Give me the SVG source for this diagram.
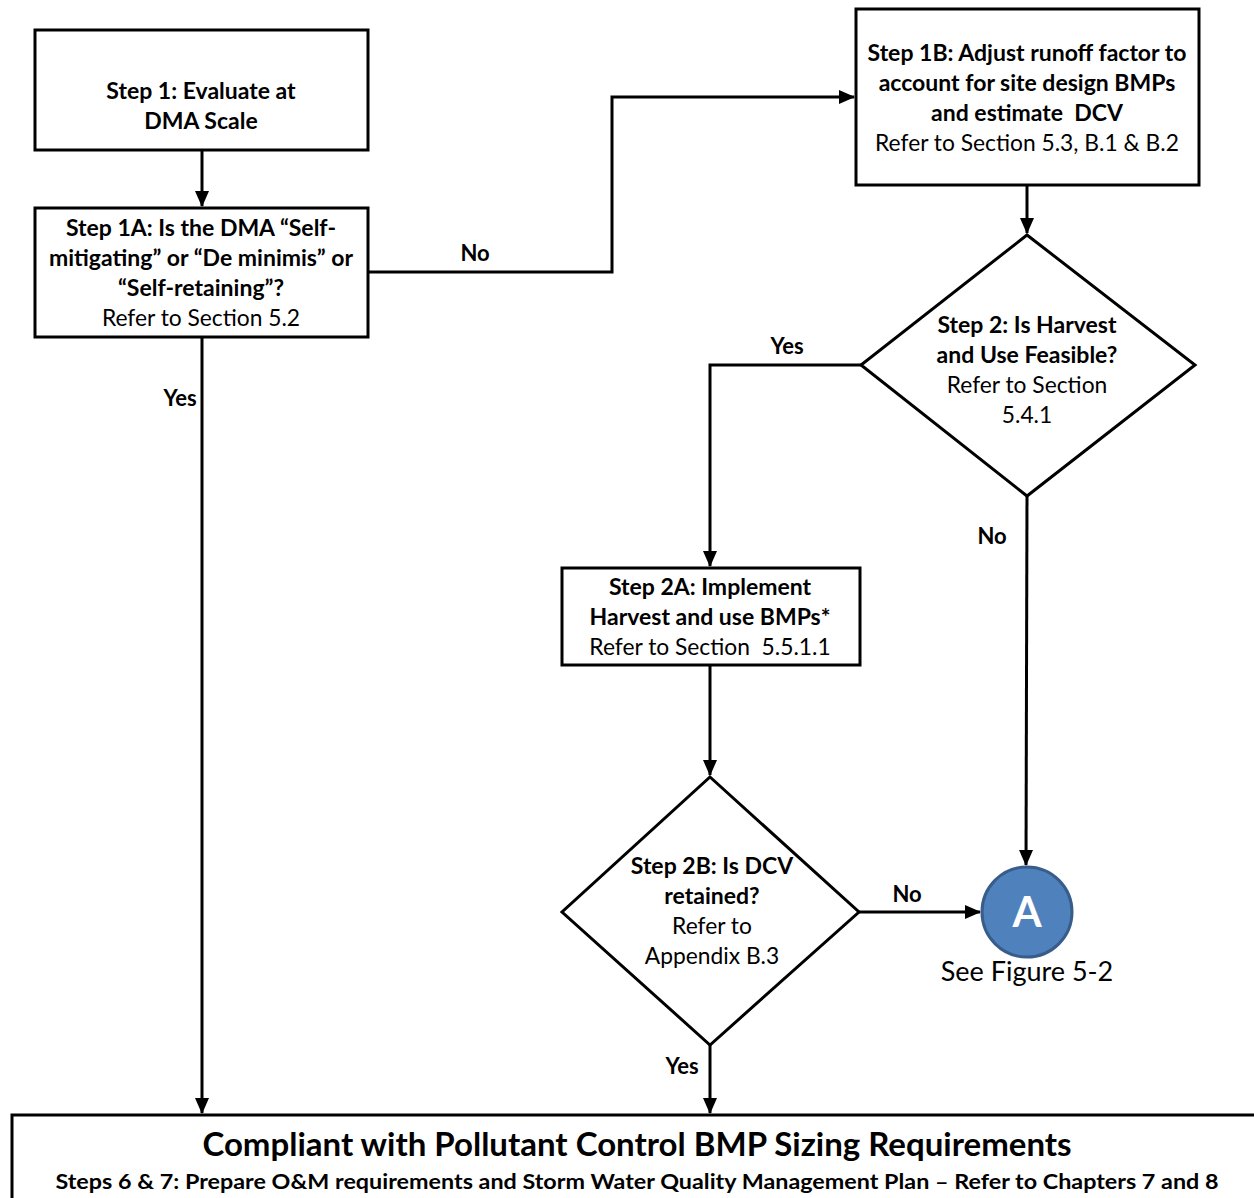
<svg xmlns="http://www.w3.org/2000/svg" width="1254" height="1198" viewBox="0 0 1254 1198">
<defs>
<style>
.box{fill:#fff;stroke:#000;stroke-width:3}
.line{fill:none;stroke:#000;stroke-width:3}
text{font-family:Lato,"Open Sans","Liberation Sans",sans-serif;fill:#000;text-anchor:middle}
.b{font-weight:bold;font-size:23px}
.n{font-size:22.8px}
.lbl{font-weight:bold;font-size:22px}
</style>
<marker id="arr" markerUnits="userSpaceOnUse" markerWidth="16" markerHeight="14" refX="15" refY="7" orient="auto">
<path d="M0,0 L16,7 L0,14 Z" fill="#000"/>
</marker>
</defs>
<rect width="1254" height="1198" fill="#fff"/>
<g id="connectors">
<path class="line" d="M202,150 V206" marker-end="url(#arr)"/>
<path class="line" d="M368,272 H612 V97 H854" marker-end="url(#arr)"/>
<path class="line" d="M1027,185 V233" marker-end="url(#arr)"/>
<path class="line" d="M861,365 H710 V566" marker-end="url(#arr)"/>
<path class="line" d="M1027,496 L1026,865" marker-end="url(#arr)"/>
<path class="line" d="M710,665 V775" marker-end="url(#arr)"/>
<path class="line" d="M859,912 H980" marker-end="url(#arr)"/>
<path class="line" d="M710,1045 V1113" marker-end="url(#arr)"/>
<path class="line" d="M202,337 V1113" marker-end="url(#arr)"/>
<text class="lbl" x="475" y="261">No</text>
<text class="lbl" x="787" y="354">Yes</text>
<text class="lbl" x="992" y="544">No</text>
<text class="lbl" x="907" y="902">No</text>
<text class="lbl" x="682" y="1074">Yes</text>
<text class="lbl" x="180" y="406">Yes</text>
</g>
<g id="step1">
<rect class="box" x="35" y="30" width="333" height="120"/>
<text class="b" x="201" y="99">Step 1: Evaluate at</text>
<text class="b" x="201" y="129">DMA Scale</text>
</g>
<g id="step1a">
<rect class="box" x="35" y="208" width="333" height="129"/>
<text class="b" x="201" y="236">Step 1A: Is the DMA “Self-</text>
<text class="b" x="201" y="266">mitigating” or “De minimis” or</text>
<text class="b" x="201" y="296">“Self-retaining”?</text>
<text class="n" x="201" y="326">Refer to Section 5.2</text>
</g>
<g id="step1b">
<rect class="box" x="856" y="9" width="343" height="176"/>
<text class="b" x="1027" y="61">Step 1B: Adjust runoff factor to</text>
<text class="b" x="1027" y="91">account for site design BMPs</text>
<text class="b" x="1027" y="121" style="white-space:pre">and estimate  DCV</text>
<text class="n" x="1027" y="151">Refer to Section 5.3, B.1 &amp; B.2</text>
</g>
<g id="step2">
<path class="box" d="M1027,235 L1195,365 L1027,496 L861,365 Z"/>
<text class="b" x="1027" y="333">Step 2: Is Harvest</text>
<text class="b" x="1027" y="363">and Use Feasible?</text>
<text class="n" x="1027" y="393">Refer to Section</text>
<text class="n" x="1027" y="423">5.4.1</text>
</g>
<g id="step2a">
<rect class="box" x="562" y="568" width="298" height="97"/>
<text class="b" x="710" y="595">Step 2A: Implement</text>
<text class="b" x="710" y="625">Harvest and use BMPs*</text>
<text class="n" x="710" y="655" style="white-space:pre">Refer to Section  5.5.1.1</text>
</g>
<g id="step2b">
<path class="box" d="M710,777 L859,912 L710,1045 L562,912 Z"/>
<text class="b" x="712" y="874">Step 2B: Is DCV</text>
<text class="b" x="712" y="904">retained?</text>
<text class="n" x="712" y="934">Refer to</text>
<text class="n" x="712" y="964">Appendix B.3</text>
</g>
<g id="connectorA">
<circle cx="1027" cy="912" r="45" fill="#4f81bd" stroke="#385d8a" stroke-width="3"/>
<text x="1027" y="927" style="font-weight:bold;font-size:42px;fill:#fff">A</text>
<text x="1027" y="981" style="font-size:27px">See Figure 5-2</text>
</g>
<g id="compliant">
<rect class="box" x="12" y="1115" width="1260" height="100"/>
<text x="637" y="1156" style="font-weight:bold;font-size:33px">Compliant with Pollutant Control BMP Sizing Requirements</text>
<text x="637" y="1189" style="font-weight:bold;font-size:21px" textLength="1163" lengthAdjust="spacingAndGlyphs">Steps 6 &amp; 7: Prepare O&amp;M requirements and Storm Water Quality Management Plan – Refer to Chapters 7 and 8</text>
</g>
</svg>
